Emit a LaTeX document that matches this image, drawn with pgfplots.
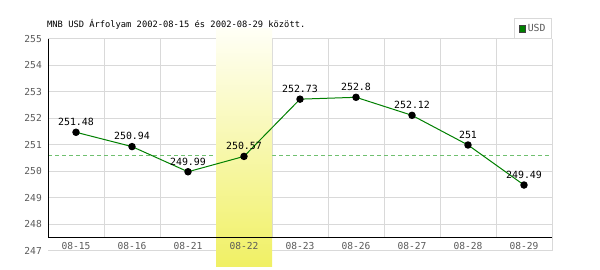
\documentclass[border=0pt]{standalone}
\usepackage{pgfplots}
\pgfplotsset{compat=1.18}
\usepackage{fontspec}
\newfontfamily\monof{DejaVu Sans Mono}
\definecolor{gridc}{HTML}{D9D9D9}
\definecolor{tickc}{HTML}{5A5A5A}
\definecolor{lineg}{HTML}{008000}
\definecolor{meang}{HTML}{70C070}
\definecolor{hlbot}{HTML}{F0F064}
\definecolor{hltop}{HTML}{FFFFF6}
\pgfplotsset{base/.style={
  at={(48pt,19pt)}, anchor=south west,
  scale only axis, width=504pt, height=212pt,
  xmin=0, xmax=9, ymin=247, ymax=255,
  clip=false,
  axis line style={draw=none},
  major tick length=0pt}}
\begin{document}
\begin{tikzpicture}[x=1pt,y=1pt]
\path[use as bounding box, fill=white] (0,0) rectangle (600,270);
% background axis: grid, mean line, highlight
\begin{axis}[base, xtick=\empty, ytick=\empty]
\pgfplotsinvokeforeach{248,249,250,251,252,253,254,255}{
  \draw[gridc, line width=1pt] (axis cs:0,#1) -- (axis cs:9,#1);
}
\pgfplotsinvokeforeach{1,2,3,4,5,6,7,8}{
  \draw[gridc, line width=1pt] (axis cs:#1,247.5) -- (axis cs:#1,255);
}
\draw[gridc, line width=1pt] (axis cs:9,247) -- (axis cs:9,255);
\draw[gridc, line width=1pt] (axis cs:0,247) -- (axis cs:9,247);
\draw[meang, line width=1pt, dash pattern=on 4pt off 3pt] (axis cs:0,250.6) -- (axis cs:9,250.6);
\fill[top color=hltop, bottom color=hlbot] (axis cs:3,246.4) rectangle (axis cs:4,255.4);
\end{axis}
% foreground axis: ticks, axes, data
\begin{axis}[base,
  xtick={0.5,1.5,2.5,3.5,4.5,5.5,6.5,7.5,8.5},
  xticklabels={08-15,08-16,08-21,08-22,08-23,08-26,08-27,08-28,08-29},
  ytick={247,248,249,250,251,252,253,254,255},
  /pgf/number format/assume math mode=true,
  ticklabel style={font=\monof\fontsize{9.6}{10}\selectfont, text=tickc},
  yticklabel style={anchor=east, inner sep=0pt, xshift=-6pt},
  xticklabel style={anchor=base, inner sep=0pt, yshift=1pt},
  legend style={at={(1,1)}, anchor=south east, draw=gridc, line width=1pt,
    font=\monof\fontsize{9.8}{10}\selectfont, text=tickc,
    inner xsep=4pt, inner ysep=3.5pt, row sep=0pt},
  legend image code/.code={\draw[fill=lineg, draw=darkgray, line width=0.6pt] (0pt,-3.2pt) rectangle (6.4pt,3.2pt);},
]
\draw[black, line width=1pt] (axis cs:0,255) -- (axis cs:0,247.5) -- (axis cs:9,247.5);
\addplot[lineg, line width=1pt, mark=*, mark size=3.2pt,
  mark options={fill=black, draw=black, solid},
  point meta=explicit symbolic,
  nodes near coords,
  nodes near coords style={font=\monof\fontsize{9.9}{10}\selectfont, text=black, anchor=south, inner sep=0pt, yshift=6pt}]
coordinates {
(0.5,251.48) [251.48]
(1.5,250.94) [250.94]
(2.5,249.99) [249.99]
(3.5,250.57) [250.57]
(4.5,252.73) [252.73]
(5.5,252.8) [252.8]
(6.5,252.12) [252.12]
(7.5,251) [251]
(8.5,249.49) [249.49]
};
\addlegendentry{USD}
\end{axis}
\node[anchor=base west, inner sep=0pt, font=\monof\fontsize{8.75}{10}\selectfont] at (47,242.5) {MNB USD Árfolyam 2002-08-15 és 2002-08-29 között.};
\end{tikzpicture}
\end{document}
